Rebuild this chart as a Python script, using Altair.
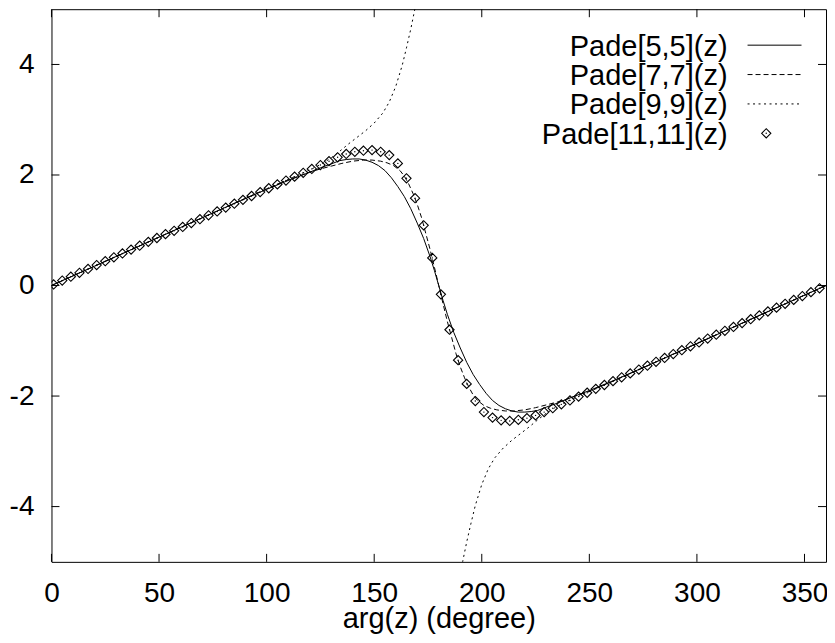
import altair as alt
import pandas as pd

# ---------------- data ----------------
x_ticks = [0, 50, 100, 150, 200, 250, 300, 350]
y_ticks = [-4, -2, 0, 2, 4]
series_names = ["Pade[5,5](z)", "Pade[7,7](z)", "Pade[9,9](z)", "Pade[11,11](z)"]

p55_x = [0, 20, 40, 60, 80, 100, 110, 120, 125, 130, 134, 137, 140, 143, 146, 149, 152, 155, 158, 161,
         164, 167, 170, 173, 176, 178, 180, 182, 184, 187, 190, 193, 196, 199, 202, 205, 208, 211, 214, 217,
         220, 223, 226, 230, 235, 240, 250, 260, 280, 300, 320, 340, 360]
p55_y = [0, 0.35, 0.70, 1.05, 1.40, 1.74, 1.90, 2.05, 2.13, 2.20, 2.26, 2.28, 2.29, 2.29, 2.27, 2.23, 2.17, 2.08, 1.95, 1.79,
         1.61, 1.39, 1.13, 0.85, 0.52, 0.27, 0, -0.27, -0.52, -0.85, -1.13, -1.39, -1.61, -1.79, -1.95, -2.08, -2.17, -2.23, -2.27, -2.29,
         -2.29, -2.28, -2.26, -2.20, -2.13, -2.05, -1.90, -1.74, -1.40, -1.05, -0.70, -0.35, 0]

p77_x = [0, 20, 40, 60, 80, 100, 110, 115, 120, 125, 130, 135, 140, 145, 149, 153, 156, 159, 162, 164,
         166, 168, 170, 172, 174, 176, 178, 180, 182, 184, 186, 188, 190, 192, 194, 196, 198, 201, 204, 207,
         211, 215, 220, 225, 230, 235, 240, 245, 250, 260, 280, 300, 320, 340, 360]
p77_y = [0, 0.35, 0.70, 1.05, 1.40, 1.75, 1.91, 1.98, 2.05, 2.11, 2.16, 2.21, 2.25, 2.27, 2.27, 2.25, 2.22, 2.17, 2.08, 1.98,
         1.84, 1.67, 1.47, 1.23, 0.94, 0.65, 0.33, 0, -0.33, -0.65, -0.94, -1.23, -1.47, -1.67, -1.84, -1.98, -2.08, -2.17, -2.22, -2.25,
         -2.27, -2.27, -2.25, -2.21, -2.16, -2.11, -2.05, -1.98, -1.91, -1.75, -1.40, -1.05, -0.70, -0.35, 0]

p99_upper_x = [0, 20, 40, 60, 80, 100, 120, 126, 130, 134, 138, 142, 146, 150, 154, 157, 160, 163, 165, 167, 169, 170.5]
p99_upper_y = [0, 0.35, 0.70, 1.05, 1.40, 1.75, 2.09, 2.21, 2.31, 2.43, 2.56, 2.68, 2.80, 2.94, 3.12, 3.32, 3.60, 3.98, 4.30, 4.64, 5.02, 5.40]
p99_lower_x = [189.5, 191, 193, 195, 197, 200, 203, 206, 210, 214, 218, 222, 226, 230, 234, 240, 260, 280, 300, 320, 340, 360]
p99_lower_y = [-5.40, -5.02, -4.64, -4.30, -3.98, -3.60, -3.32, -3.12, -2.94, -2.80, -2.68, -2.56, -2.43, -2.31, -2.21, -2.09, -1.75, -1.40, -1.05, -0.70, -0.35, 0]

p1111_x = list(range(1, 358, 4))
p1111_y = [0.02, 0.09, 0.16, 0.23, 0.30, 0.37, 0.44, 0.51, 0.58, 0.65,
           0.72, 0.79, 0.86, 0.93, 0.99, 1.06, 1.13, 1.20, 1.27, 1.34,
           1.41, 1.48, 1.55, 1.62, 1.69, 1.76, 1.83, 1.90, 1.97, 2.04,
           2.11, 2.18, 2.25, 2.32, 2.38, 2.42, 2.44, 2.45, 2.42, 2.36,
           2.21, 1.94, 1.58, 1.09, 0.50, -0.16, -0.80, -1.35, -1.78, -2.09,
           -2.29, -2.39, -2.44, -2.45, -2.43, -2.40, -2.35, -2.29, -2.22, -2.15,
           -2.08, -2.01, -1.94, -1.87, -1.80, -1.73, -1.66, -1.59, -1.52, -1.45,
           -1.38, -1.31, -1.24, -1.17, -1.10, -1.03, -0.96, -0.89, -0.82, -0.75,
           -0.68, -0.61, -0.54, -0.47, -0.40, -0.33, -0.26, -0.19, -0.12, -0.05]

# ---------------- chart ----------------
W, H = 775, 553
FONT = "Liberation Sans"
TICK = 8
MSIZE = 85

xs = alt.Scale(domain=[0, 360], nice=False, zero=False)
ys = alt.Scale(domain=[-5, 5], nice=False, zero=False)
x_axis = alt.Axis(values=x_ticks, title="arg(z) (degree)", labelExpr="'' + datum.value")
y_axis = alt.Axis(values=y_ticks, title=None, labelExpr="'' + datum.value")


def X():
    return alt.X("x:Q", scale=xs, axis=x_axis)


def Y():
    return alt.Y("y:Q", scale=ys, axis=y_axis)


df55 = pd.DataFrame({"x": p55_x, "y": p55_y})
df77 = pd.DataFrame({"x": p77_x, "y": p77_y})
df99 = pd.concat([
    pd.DataFrame({"x": p99_upper_x, "y": p99_upper_y, "branch": "a"}),
    pd.DataFrame({"x": p99_lower_x, "y": p99_lower_y, "branch": "b"}),
])
df11 = pd.DataFrame({"x": p1111_x, "y": p1111_y})

line55 = alt.Chart(df55).mark_line(color="black", strokeWidth=1, clip=True).encode(x=X(), y=Y())
line77 = alt.Chart(df77).mark_line(color="black", strokeWidth=1, strokeDash=[5, 3], clip=True).encode(x=X(), y=Y())
line99 = alt.Chart(df99).mark_line(color="black", strokeWidth=1, strokeDash=[2, 3.5], clip=True).encode(
    x=X(), y=Y(), detail="branch:N")
pts11 = alt.Chart(df11).mark_point(shape="diamond", filled=False, size=MSIZE, color="black",
                                    strokeWidth=1.1, opacity=1, clip=True).encode(x=X(), y=Y())
dots11 = alt.Chart(df11).mark_circle(size=2, color="black", opacity=1, clip=True).encode(x=X(), y=Y())

# inward ticks on all four sides
dfxt = pd.DataFrame({"x": x_ticks})
dfyt = pd.DataFrame({"y": y_ticks})
tick_b = alt.Chart(dfxt).mark_rule(color="black", strokeWidth=1).encode(
    x=X(), y=alt.value(H), y2=alt.value(H - TICK))
tick_t = alt.Chart(dfxt).mark_rule(color="black", strokeWidth=1).encode(
    x=X(), y=alt.value(0), y2=alt.value(TICK))
tick_l = alt.Chart(dfyt).mark_rule(color="black", strokeWidth=1).encode(
    y=Y(), x=alt.value(0), x2=alt.value(TICK))
tick_r = alt.Chart(dfyt).mark_rule(color="black", strokeWidth=1).encode(
    y=Y(), x=alt.value(W - TICK), x2=alt.value(W))

# gnuplot-style key (text left, sample right)
KEY_TEXT_X = 676.5
KEY_S0, KEY_S1 = 696.5, 750.5
KEY_Y0, KEY_DY = 36.0, 29.4
dashes = [None, [5, 3], [2, 3.5]]
key_layers = []
for i, name in enumerate(series_names):
    yrow = KEY_Y0 + KEY_DY * i
    key_layers.append(
        alt.Chart(pd.DataFrame({"label": [name]})).mark_text(
            align="right", baseline="alphabetic", font=FONT, fontSize=29, color="black"
        ).encode(x=alt.value(KEY_TEXT_X), y=alt.value(yrow + 10.5), text="label:N")
    )
    if i < 3:
        kw = dict(color="black", strokeWidth=1)
        if dashes[i] is not None:
            kw["strokeDash"] = dashes[i]
        key_layers.append(
            alt.Chart(pd.DataFrame({"label": [name]})).mark_rule(**kw).encode(
                x=alt.value(KEY_S0), x2=alt.value(KEY_S1), y=alt.value(yrow))
        )
    else:
        key_layers.append(
            alt.Chart(pd.DataFrame({"label": [name]})).mark_point(
                shape="diamond", filled=False, size=MSIZE, color="black", strokeWidth=1.1, opacity=1
            ).encode(x=alt.value(715.2), y=alt.value(yrow))
        )
        key_layers.append(
            alt.Chart(pd.DataFrame({"label": [name]})).mark_circle(
                size=2, color="black", opacity=1
            ).encode(x=alt.value(715.2), y=alt.value(yrow))
        )

chart = alt.layer(
    line55, line77, line99, pts11, dots11, tick_b, tick_t, tick_l, tick_r, *key_layers
).properties(
    width=W, height=H,
    autosize=alt.AutoSizeParams(type="none"),
    padding={"left": 43.5, "top": 1, "right": 1, "bottom": 80},
).configure_view(
    stroke="black", strokeWidth=1
).configure_axis(
    grid=False, domain=False, ticks=False, tickSize=0, labelFlush=False,
    labelFont=FONT, labelFontSize=28, labelColor="black",
    titleFont=FONT, titleFontSize=29, titleColor="black", titleFontWeight="normal",
).configure_axisX(
    labelPadding=39.7, labelBaseline="alphabetic", labelAngle=0,
    titleBaseline="alphabetic", titleY=66,
).configure_axisY(
    labelPadding=17.5,
)

chart.save("out.html", embed_options={"renderer": "svg", "actions": False})
